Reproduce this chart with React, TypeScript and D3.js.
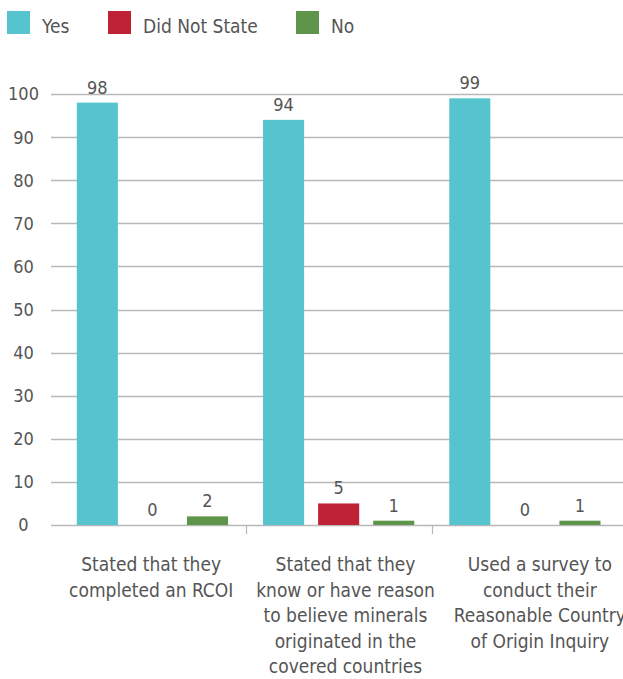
import React from "react";
import * as d3 from "d3";

const categories: string[][] = [
  ["Stated that they", "completed an RCOI"],
  ["Stated that they", "know or have reason", "to believe minerals", "originated in the", "covered countries"],
  ["Used a survey to", "conduct their", "Reasonable Country", "of Origin Inquiry"],
];
const seriesNames = ["Yes", "Did Not State", "No"];
const yesValues = [98, 94, 99];
const didNotStateValues = [0, 5, 0];
const noValues = [2, 1, 1];
const yTicks = [0, 10, 20, 30, 40, 50, 60, 70, 80, 90, 100];

const colors = ["#55C4CF", "#C02235", "#5E954A"];
const W = 623;
const H = 679;
const FONT = "'DejaVu Sans Condensed', 'DejaVu Sans', sans-serif";
const TEXT = "#555555";

export default function App() {
  const series = [yesValues, didNotStateValues, noValues];
  const y = d3.scaleLinear().domain([0, 100]).range([525, 94]);
  const x0 = d3
    .scaleBand<number>()
    .domain(categories.map((_, i) => i))
    .range([59.3, 618])
    .paddingInner(0)
    .paddingOuter(0);
  const xLabel = d3
    .scaleBand<number>()
    .domain(categories.map((_, i) => i))
    .range([54, 637])
    .paddingInner(0)
    .paddingOuter(0);
  const x1 = d3
    .scaleBand<number>()
    .domain([0, 1, 2])
    .range([17.5, x0.bandwidth() - 17.5])
    .paddingInner(14 / 55)
    .paddingOuter(0);

  const legendX = [7, 108, 296];

  return (
    <svg
      width={W}
      height={H}
      style={{ position: "absolute", left: 0, top: 0, background: "#fff" }}
      fontFamily={FONT}
    >
      {/* legend */}
      {seriesNames.map((name, i) => (
        <g key={name}>
          <rect x={legendX[i]} y={11} width={23} height={23} fill={colors[i]} />
          <text x={legendX[i] + 35} y={33} fontSize={19} fill={TEXT}>
            {name}
          </text>
        </g>
      ))}

      {/* gridlines */}
      {yTicks.map((t) => (
        <g key={t}>
          <line x1={51} x2={W} y1={Math.round(y(t)) + 0.5} y2={Math.round(y(t)) + 0.5} stroke="#b8b8b8" strokeWidth={1.5} />
          <text
            x={23.5}
            y={y(t)}
            dy="0.36em"
            textAnchor="middle"
            fontSize={18}
            fill={TEXT}
          >
            {t}
          </text>
        </g>
      ))}

      {/* category separators */}
      {categories.slice(1).map((_, i) => {
        const xx = Math.round(x0(i + 1)!) + 0.5;
        return <line key={i} x1={xx} x2={xx} y1={525} y2={534} stroke="#b8b8b8" strokeWidth={1.2} />;
      })}

      {/* bars */}
      {categories.map((_, ci) => (
        <g key={ci} transform={`translate(${x0(ci)},0)`}>
          {series.map((vals, si) => {
            const v = vals[ci];
            const bx = x1(si)!;
            return (
              <g key={si}>
                {v > 0 && (
                  <rect x={bx} y={y(v)} width={x1.bandwidth()} height={y(0) - y(v)} fill={colors[si]} />
                )}
                <text
                  x={bx + x1.bandwidth() / 2}
                  y={y(v) - 9}
                  textAnchor="middle"
                  fontSize={18}
                  fill={TEXT}
                >
                  {v}
                </text>
              </g>
            );
          })}
        </g>
      ))}

      {/* category labels */}
      {categories.map((lines, ci) => {
        const cx = xLabel(ci)! + xLabel.bandwidth() / 2;
        return (
          <text key={ci} x={cx} textAnchor="middle" fontSize={19} fill={TEXT}>
            {lines.map((l, li) => (
              <tspan key={li} x={cx} y={571 + li * 25.5}>
                {l}
              </tspan>
            ))}
          </text>
        );
      })}
    </svg>
  );
}
